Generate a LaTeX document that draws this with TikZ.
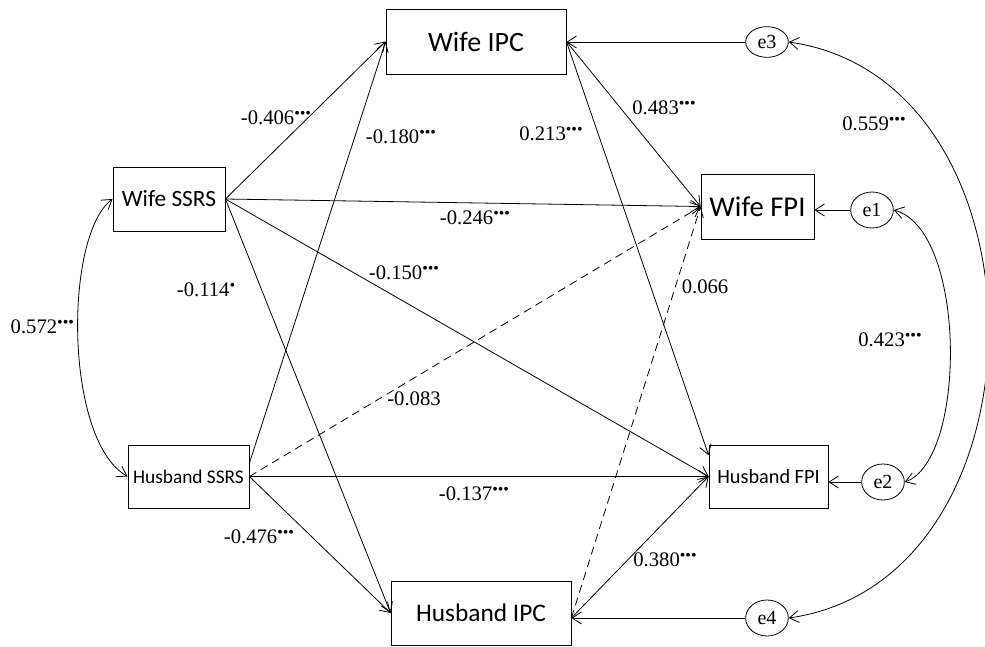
\documentclass[tikz,border=0pt]{standalone}
\usepackage{fontspec}
\setmainfont{Liberation Serif}
\newfontfamily\boxfont{Carlito}
\usetikzlibrary{arrows.meta}
\usetikzlibrary{shapes.geometric}
\newcommand{\sigthree}{\raisebox{4.5pt}{\fontsize{12}{12}\selectfont •••}}
\newcommand{\sigone}{\raisebox{4.5pt}{\fontsize{12}{12}\selectfont •}}

\begin{document}
\begin{tikzpicture}[x=0.75pt, y=-0.75pt,
		var/.style={draw, rectangle, inner sep=0pt, line width=0.6pt, font=\boxfont},
		err/.style={draw, ellipse, inner sep=0pt, line width=0.6pt, minimum width=32pt, minimum height=27pt, font=\fontsize{15}{15}\selectfont},
		arr/.style={-{Straight Barb[length=7pt,width=9pt]}, line width=0.6pt},
		cov/.style={{Straight Barb[length=7pt,width=9pt]}-{Straight Barb[length=7pt,width=9pt]}, line width=0.6pt},
		coef/.style={font=\fontsize{15.5}{15.5}\selectfont}]
		\useasboundingbox (0,0) rectangle (985,646);
		% observed variables
		\node[var, minimum width=135pt, minimum height=48.75pt, font=\boxfont\fontsize{21}{21}\selectfont] (wipc) at (476,41.5) {Wife IPC};
		\node[var, minimum width=84pt, minimum height=48pt, font=\boxfont\fontsize{17.5}{17.5}\selectfont] (wssrs) at (169,199) {Wife SSRS};
		\node[var, minimum width=90.75pt, minimum height=47.25pt, font=\boxfont\fontsize{14.5}{14.5}\selectfont] (hssrs) at (188.5,476.5) {Husband SSRS};
		\node[var, minimum width=135pt, minimum height=48pt, font=\boxfont\fontsize{19}{19}\selectfont] (hipc) at (481,613) {Husband IPC};
		\node[var, minimum width=84.75pt, minimum height=48.75pt, font=\boxfont\fontsize{21.5}{21.5}\selectfont] (wfpi) at (757.5,206.5) {Wife FPI};
		\node[var, minimum width=89.25pt, minimum height=47.25pt, font=\boxfont\fontsize{15.2}{15.2}\selectfont] (hfpi) at (768.5,476.5) {Husband FPI};
		% residuals
		\node[err, minimum height=23pt] (e3) at (767,42) {e3};
		\node[err] (e1) at (872,210) {e1};
		\node[err] (e2) at (883,482) {e2};
		\node[err] (e4) at (767,618) {e4};
		% paths
		\draw[arr] (wssrs.east) -- (wipc.west);
		\draw[arr] ([yshift=10pt]hssrs.east) -- (wipc.west);
		\draw[arr] (wssrs.east) -- (hipc.west);
		\draw[arr] (hssrs.east) -- (hipc.west);
		\draw[arr] (wssrs.east) -- (wfpi.west);
		\draw[arr] (wssrs.east) -- (hfpi.west);
		\draw[arr, dash pattern=on 6pt off 4pt] (hssrs.east) -- (wfpi.west);
		\draw[arr] (hssrs.east) -- (hfpi.west);
		\draw[arr] (wipc.east) -- (wfpi.west);
		\draw[arr] (wipc.east) -- ([yshift=16pt]hfpi.west);
		\draw[arr, dash pattern=on 6pt off 4pt] (e4 -| hipc.east) -- (wfpi.west);
		\draw[arr] (e4 -| hipc.east) -- (hfpi.west);
		\draw[arr] (e3) -- (e3 -| wipc.east);
		\draw[arr] (e1) -- (e1 -| wfpi.east);
		\draw[arr] (e2) -- (e2 -| hfpi.east);
		\draw[arr] (e4) -- (e4 -| hipc.east);
		% covariances
		\draw[cov] (wssrs.west) .. controls (64,235) and (64,440) .. (hssrs.west);
		\draw[cov] (e1.east) .. controls (967,230) and (967,460) .. (e2.east);
		\draw[cov] (e3.east) .. controls (1055,80) and (1055,580) .. (e4.east);
		% coefficients
		\node[coef, anchor=west] (c572) at (6,327) {0.572\sigthree};
		\node[coef] (c406) at (276,118) {-0.406\sigthree};
		\node[coef] (c180) at (401,137) {-0.180\sigthree};
		\node[coef] (c213) at (551,134) {0.213\sigthree};
		\node[coef] (c483) at (664,108) {0.483\sigthree};
		\node[coef] (c559) at (874,124) {0.559\sigthree};
		\node[coef] (c246) at (475,218) {-0.246\sigthree};
		\node[coef] (c150) at (404,273) {-0.150\sigthree};
		\node[coef] (c114) at (206,290) {-0.114\sigone};
		\node[coef] (c066) at (705,287) {0.066};
		\node[coef] (c423) at (890,340) {0.423\sigthree};
		\node[coef] (c083) at (414,399) {-0.083};
		\node[coef] (c137) at (474,494) {-0.137\sigthree};
		\node[coef] (c476) at (259,537) {-0.476\sigthree};
		\node[coef] (c380) at (665,560) {0.380\sigthree};
	\end{tikzpicture}
\end{document}
